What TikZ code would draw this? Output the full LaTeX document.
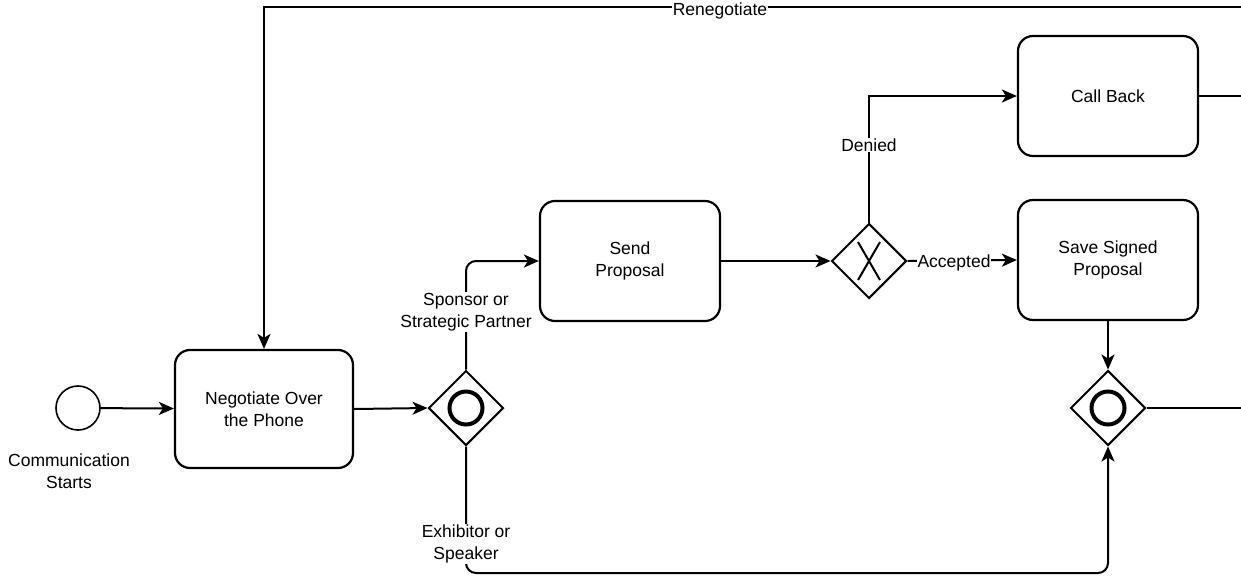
\documentclass[tikz,border=0pt]{standalone}
\usepackage{fontspec}
\setmainfont{Liberation Sans}
\usetikzlibrary{shapes.geometric,arrows.meta,calc}
\begin{document}
\begin{tikzpicture}[x=1pt,y=-1pt,
  every node/.style={font=\fontsize{17.5}{22}\selectfont},
  task/.style={draw,line width=2.2pt,rounded corners=15pt,minimum width=180pt,minimum height=120pt,align=center,inner sep=0pt},
  gate/.style={draw,shape=diamond,line width=2pt,minimum width=75pt,minimum height=75pt,inner sep=0pt},
  startev/.style={draw,circle,line width=1.6pt,minimum size=44pt,inner sep=0pt},
  flow/.style={draw,line width=2pt,-{Stealth[length=15pt,width=13pt,inset=4pt]}},
  roundflow/.style={flow,rounded corners=10pt},
  plain/.style={draw,line width=2pt},
  lbl/.style={fill=white,align=center,inner sep=1pt}
]
\useasboundingbox (0,0) rectangle (1241,582);

% events, tasks and gateways
\node[startev] (start) at (78,408) {};
\node[align=center] (startlbl) at (69,471) {Communication\\Starts};
\node[task,minimum width=178pt,minimum height=118pt] (neg) at (264,409) {Negotiate Over\\the Phone};
\node[gate] (gw1) at (466,408) {};
\draw[line width=4pt] (gw1.center) circle (16.5pt);
\node[task] (send) at (630,261) {Send\\Proposal};
\node[gate] (gwx) at (869,261) {};
\draw[line width=2pt] ($(gwx.center)+(-11,-19)$) -- ($(gwx.center)+(11,19)$)
                      ($(gwx.center)+(11,-19)$) -- ($(gwx.center)+(-11,19)$);
\node[task] (cb) at (1108,96) {Call Back};
\node[task] (save) at (1108,260) {Save Signed\\Proposal};
\node[gate] (gw2) at (1108,408) {};
\draw[line width=4pt] (gw2.center) circle (16.5pt);

% loose ends at the right border
\coordinate (cbout) at (1241,96);
\coordinate (gw2out) at (1241,408);
\coordinate (renin) at (1241,7);

% sequence flows
\draw[flow] (start) -- (neg);
\draw[flow] (neg.east) -- (gw1.west);
\draw[roundflow] (gw1.north) |- (send.west);
\node[lbl] (lsp) at (466,312) {Sponsor or\\Strategic Partner};
\draw[roundflow] (gw1.south) -- (466,573) -- (1108,573) -- (gw2.south);
\node[lbl] (lex) at (466,544) {Exhibitor or\\Speaker};
\draw[flow] (send.east) -- (gwx.west);
\draw[flow] (gwx.north) |- (cb.west);
\node[lbl] (lden) at (869,145) {Denied};
\draw[flow] (gwx.east) -- (save.west);
\node[lbl] (lacc) at (954,263) {Accepted};
\draw[flow] (save.south) -- (gw2.north);
\draw[plain] (cb.east) -- (cbout);
\draw[plain] (gw2.east) -- (gw2out);
\draw[flow] (renin) -- (neg.north |- renin) -- (neg.north);
\node[lbl] (lren) at (720,11) {Renegotiate};
\end{tikzpicture}
\end{document}
